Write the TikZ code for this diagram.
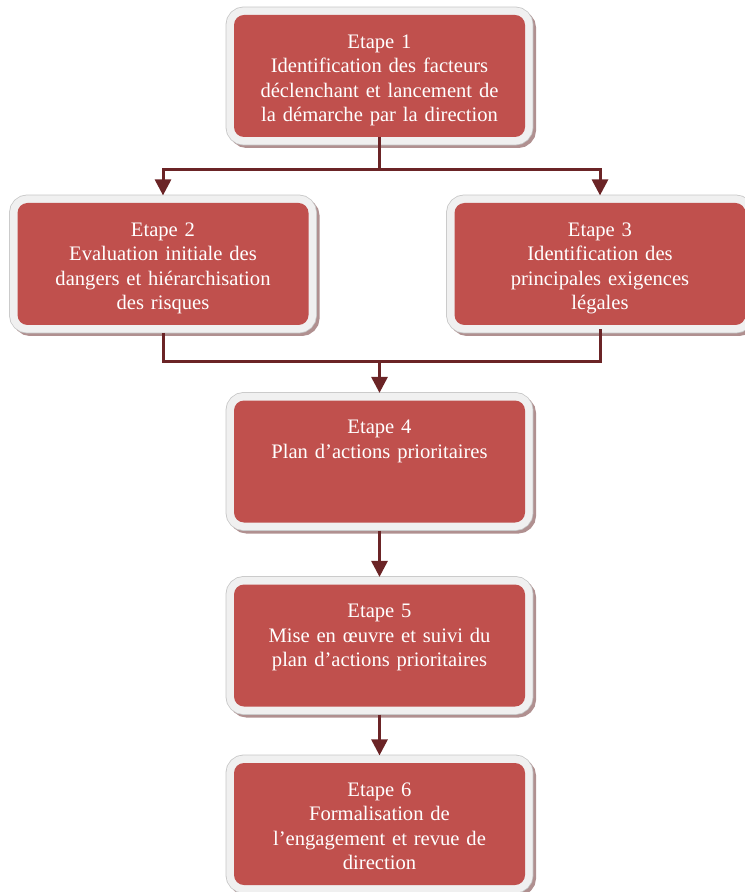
\documentclass[tikz,border=0pt]{standalone}
\usepackage{fontspec}
\setmainfont{Liberation Serif}
\usetikzlibrary{arrows.meta,positioning}

\definecolor{stagered}{HTML}{C0504D}
\definecolor{linkred}{HTML}{6B2426}
\definecolor{halogray}{HTML}{F0F0F0}
\definecolor{shadowred}{HTML}{B09090}

\tikzset{
  stage/.style={rectangle, rounded corners=5pt, fill=stagered,
    minimum width=145.5pt, minimum height=61pt, outer sep=0pt,
    preaction={draw=shadowred, line width=8pt,
      transform canvas={shift={(1.5pt,-1.5pt)}}},
    preaction={draw=gray!45, line width=8.4pt},
    preaction={draw=halogray, line width=7.6pt}},
  stagetext/.style={anchor=north, yshift=-6.3pt, text=white,
    text width=144pt, align=center,
    font=\fontsize{10.3}{12.25}\selectfont},
  link/.style={draw=linkred, line width=1.5pt},
  arr/.style={-{Triangle[width=8pt,length=8pt]}, shorten >=3.8pt}
}

\begin{document}
\begin{tikzpicture}[x=0.5pt, y=-0.5pt]

  \useasboundingbox (0,0) rectangle (744,892);

  % the six stages
  \node[stage, label={[stagetext]90:{Etape 1\\Identification des facteurs\\d\'eclenchant et lancement de\\la d\'emarche par la direction}}]
    (s1) at (379.5,76) {};
  \node[stage, label={[stagetext]90:{Etape 2\\Evaluation initiale des\\dangers et hi\'erarchisation\\des risques}}]
    (s2) at (163,264) {};
  \node[stage, label={[stagetext]90:{Etape 3\\Identification des\\principales exigences\\l\'egales}}]
    (s3) at (600,264) {};
  \node[stage, label={[stagetext]90:{Etape 4\\Plan d’actions prioritaires}}]
    (s4) at (379.5,461.5) {};
  \node[stage, label={[stagetext]90:{Etape 5\\Mise en \oe uvre et suivi du\\plan d’actions prioritaires}}]
    (s5) at (379.5,645.5) {};
  \node[stage, label={[stagetext]90:{Etape 6\\Formalisation de\\l’engagement et revue de\\direction}}]
    (s6) at (379.5,824) {};

  % split after stage 1
  \draw[link, arr] (s1.south) -- ++(0,33) -| (s2.north);
  \draw[link, arr] (s1.south) -- ++(0,33) -| (s3.north);

  % merge of stages 2 and 3
  \draw[link, shorten <=4pt] (s2.south) -- ++(0,37) -| ([yshift=-2pt]s3.south);
  \coordinate (join) at (379.5,362);
  \draw[link, arr] (join) -- (s4.north);

  \draw[link, arr, shorten <=4pt] (s4.south) -- (s5.north);
  \draw[link, arr, shorten <=4pt] (s5.south) -- (s6.north);

\end{tikzpicture}
\end{document}
